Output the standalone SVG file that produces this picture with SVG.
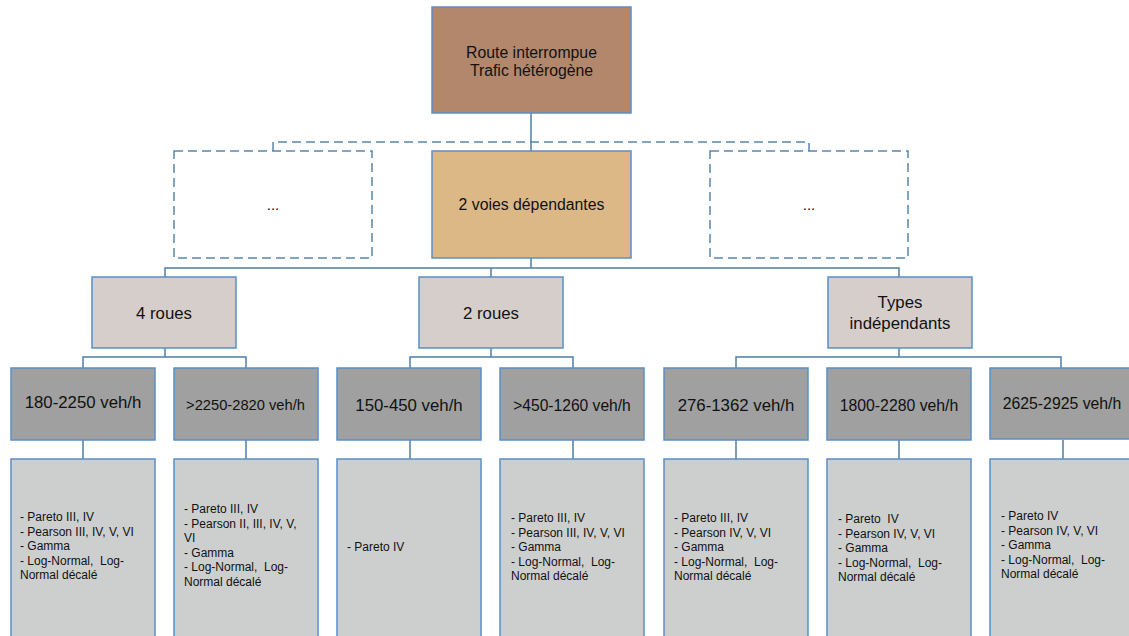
<svg xmlns="http://www.w3.org/2000/svg" width="1129" height="636" viewBox="0 0 1129 636">
<style>
.n{stroke:#5b8fc4;stroke-width:1.5}
.top{fill:#b3876c}
.mid{fill:#ddb887}
.dash{fill:#ffffff;stroke:#5a87ad;stroke-width:1.5;stroke-dasharray:9,5}
.cat{fill:#d5ceca}
.rng{fill:#9fa09f}
.lst{fill:#cdcfcf}
text{font-family:"Liberation Sans",Arial,sans-serif;fill:#111}
.t16{font-size:15.8px;text-anchor:middle}
.t17{font-size:16.8px;text-anchor:middle}
.t15{font-size:15px;text-anchor:middle}
.t155{font-size:15.6px;text-anchor:middle}
.t147{font-size:14.7px;text-anchor:middle}
.l{font-size:12px;white-space:pre}
.c{stroke:#4f7ea5;stroke-width:1.5;fill:none}
.cd{stroke:#5a87ad;stroke-width:1.5;fill:none;stroke-dasharray:9,5}
</style>
<g id="connectors">
<path class="c" d="M531 113V151"/>
<path class="cd" d="M273 151V142H809V151"/>
<path class="c" d="M531 258V268M165 277V268H899V277M491 268V277"/>
<path class="c" d="M165 348V357M83 368V357H246V368"/>
<path class="c" d="M491 348V357M410 368V357H573V368"/>
<path class="c" d="M899 348V357M736 368V357H1061V368"/>
<path class="c" d="M83 440V459M246 440V459M410 440V459M573 440V459M736 440V459M899 440V459M1063 440V459"/>
</g>
<g id="n-root"><rect class="n top" x="432" y="7" width="199" height="106"/><text class="t16" x="531.5" y="58">Route interrompue</text><text class="t16" x="531.5" y="76">Trafic hétérogène</text></g>
<g id="n-left"><rect class="dash" x="174" y="151" width="198" height="107"/><text class="t15" x="273" y="210">...</text></g>
<g id="n-2voies"><rect class="n mid" x="432" y="151" width="199" height="107"/><text class="t16" x="531.5" y="210">2 voies dépendantes</text></g>
<g id="n-right"><rect class="dash" x="710" y="151" width="198" height="107"/><text class="t15" x="809" y="210">...</text></g>
<g id="n-4roues"><rect class="n cat" x="92" y="277" width="144" height="71"/><text class="t17" x="164" y="319">4 roues</text></g>
<g id="n-2roues"><rect class="n cat" x="419" y="277" width="144" height="71"/><text class="t17" x="491" y="319">2 roues</text></g>
<g id="n-types"><rect class="n cat" x="828" y="277" width="144" height="71"/><text class="t17" x="900" y="308">Types</text><text class="t17" x="900" y="329">indépendants</text></g>
<g id="n-r1"><rect class="n rng" x="11" y="368" width="144" height="72"/><text class="t17" x="83" y="408">180-2250 veh/h</text></g>
<g id="n-r2"><rect class="n rng" x="174" y="368" width="144" height="72"/><text class="t147" x="245.5" y="410">&gt;2250-2820 veh/h</text></g>
<g id="n-r3"><rect class="n rng" x="337" y="368" width="144" height="72"/><text class="t17" x="409" y="411">150-450 veh/h</text></g>
<g id="n-r4"><rect class="n rng" x="500" y="368" width="144" height="72"/><text class="t155" x="572" y="411">&gt;450-1260 veh/h</text></g>
<g id="n-r5"><rect class="n rng" x="664" y="368" width="144" height="72"/><text class="t17" x="736" y="411">276-1362 veh/h</text></g>
<g id="n-r6"><rect class="n rng" x="827" y="368" width="144" height="72"/><text class="t16" x="899" y="411">1800-2280 veh/h</text></g>
<g id="n-r7"><rect class="n rng" x="990" y="368" width="145" height="71"/><text class="t16" x="1062" y="409">2625-2925 veh/h</text></g>
<g id="n-l1"><rect class="n lst" x="11" y="459" width="144" height="185"/><text class="l" x="20"><tspan x="20" y="521">- Pareto III, IV</tspan><tspan x="20" y="535.5">- Pearson III, IV, V, VI</tspan><tspan x="20" y="550">- Gamma</tspan><tspan x="20" y="564.5">- Log-Normal,  Log-</tspan><tspan x="20" y="579">Normal décalé</tspan></text></g>
<g id="n-l2"><rect class="n lst" x="174" y="459" width="144" height="185"/><text class="l"><tspan x="184" y="513">- Pareto III, IV</tspan><tspan x="184" y="527.5">- Pearson II, III, IV, V,</tspan><tspan x="184" y="542">VI</tspan><tspan x="184" y="556.5">- Gamma</tspan><tspan x="184" y="571">- Log-Normal,  Log-</tspan><tspan x="184" y="585.5">Normal décalé</tspan></text></g>
<g id="n-l3"><rect class="n lst" x="337" y="459" width="144" height="185"/><text class="l" x="347" y="551">- Pareto IV</text></g>
<g id="n-l4"><rect class="n lst" x="500" y="459" width="144" height="185"/><text class="l"><tspan x="511" y="522">- Pareto III, IV</tspan><tspan x="511" y="536.5">- Pearson III, IV, V, VI</tspan><tspan x="511" y="551">- Gamma</tspan><tspan x="511" y="565.5">- Log-Normal,  Log-</tspan><tspan x="511" y="580">Normal décalé</tspan></text></g>
<g id="n-l5"><rect class="n lst" x="664" y="459" width="144" height="185"/><text class="l"><tspan x="674" y="522">- Pareto III, IV</tspan><tspan x="674" y="536.5">- Pearson IV, V, VI</tspan><tspan x="674" y="551">- Gamma</tspan><tspan x="674" y="565.5">- Log-Normal,  Log-</tspan><tspan x="674" y="580">Normal décalé</tspan></text></g>
<g id="n-l6"><rect class="n lst" x="827" y="459" width="144" height="185"/><text class="l"><tspan x="838" y="523">- Pareto  IV</tspan><tspan x="838" y="537.5">- Pearson IV, V, VI</tspan><tspan x="838" y="552">- Gamma</tspan><tspan x="838" y="566.5">- Log-Normal,  Log-</tspan><tspan x="838" y="581">Normal décalé</tspan></text></g>
<g id="n-l7"><rect class="n lst" x="990" y="459" width="145" height="185"/><text class="l"><tspan x="1001" y="520">- Pareto IV</tspan><tspan x="1001" y="534.5">- Pearson IV, V, VI</tspan><tspan x="1001" y="549">- Gamma</tspan><tspan x="1001" y="563.5">- Log-Normal,  Log-</tspan><tspan x="1001" y="578">Normal décalé</tspan></text></g>
</svg>
